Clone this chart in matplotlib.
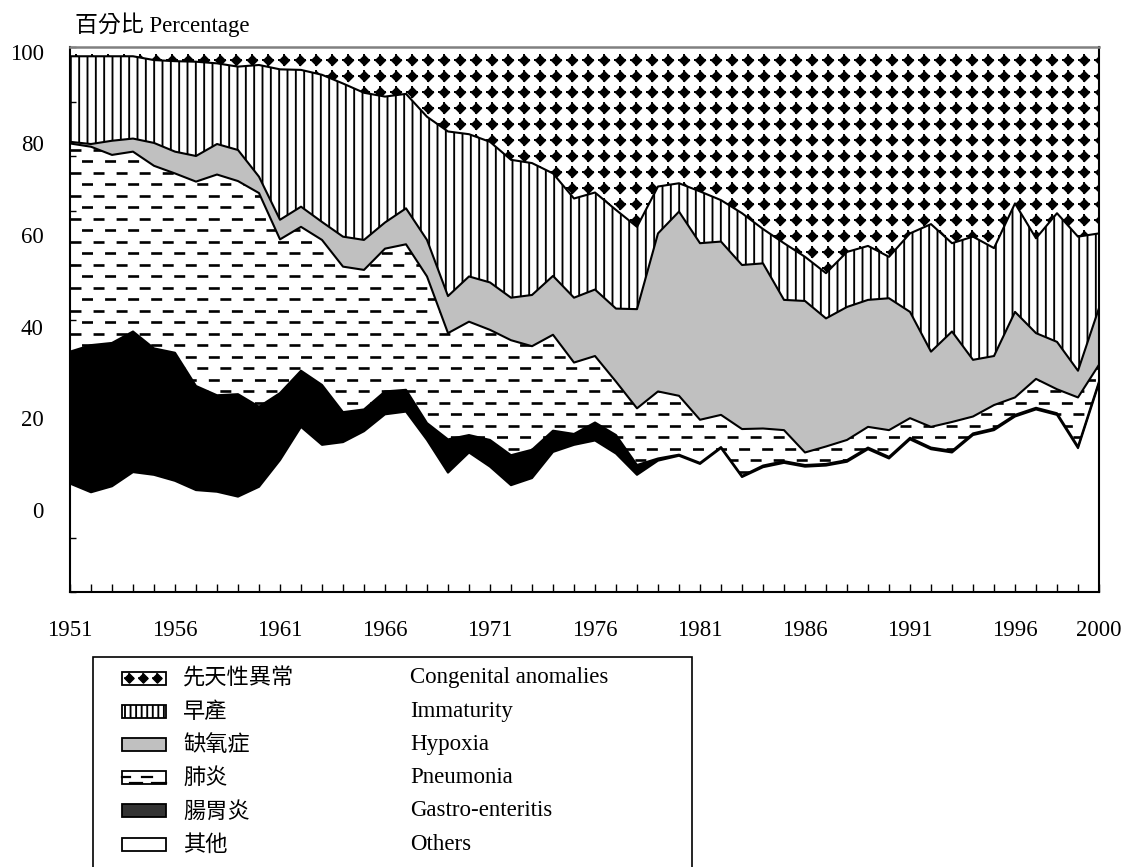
import numpy as np
import matplotlib
matplotlib.use('Agg')
import matplotlib.pyplot as plt
from matplotlib.collections import LineCollection
from matplotlib.patches import Rectangle

plt.rcParams['font.family'] = ['Liberation Serif', 'Noto Sans CJK TC']
plt.rcParams['lines.scale_dashes'] = False
plt.rcParams['hatch.linewidth'] = 1.35

years = np.arange(1951, 2001)

# percentage share of each cause, 1951-2000
others = [19.9, 18.3, 19.4, 22.0, 21.5, 20.4, 18.7, 18.4, 17.5, 19.3,
          24.2, 30.3, 27.0, 27.5, 29.5, 32.6, 33.1, 27.9, 21.9, 25.6,
          23.0, 19.6, 20.9, 25.7, 27.0, 27.8, 25.4, 21.5, 24.1, 25.0,
          23.5, 26.4, 21.1, 22.9, 23.7, 23.0, 23.2, 23.9, 26.2, 24.5,
          28.0, 26.2, 25.6, 28.8, 29.7, 32.2, 33.5, 32.5, 26.4, 38.3]
gastro = [24.2, 27.0, 26.3, 25.8, 23.2, 23.5, 19.1, 17.7, 18.8, 14.7,
          12.3, 10.3, 11.0, 5.5, 4.0, 4.2, 4.0, 3.1, 6.1, 3.2,
          4.9, 5.5, 5.2, 3.9, 2.0, 3.3, 3.4, 1.8, 0.4, 0.2,
          0.2, 0.2, 0.2, 0.3, 0.3, 0.3, 0.3, 0.3, 0.3, 0.3,
          0.3, 0.3, 0.3, 0.3, 0.3, 0.3, 0.3, 0.3, 0.3, 0.3]
pneumonia = [38.2, 36.4, 34.5, 33.0, 33.5, 32.9, 37.5, 40.5, 39.1, 39.2,
             28.2, 26.4, 26.6, 26.7, 25.6, 26.2, 26.7, 26.9, 19.5, 20.8,
             20.2, 21.1, 19.0, 17.6, 13.1, 12.2, 9.8, 10.4, 12.3, 10.8,
             7.9, 5.9, 8.6, 6.8, 5.7, 2.3, 3.2, 3.7, 3.8, 4.9,
             3.6, 3.8, 5.3, 3.1, 4.3, 3.2, 5.3, 4.4, 9.0, 3.1]
hypoxia = [0.3, 0.5, 2.6, 2.4, 4.2, 4.0, 4.7, 5.6, 5.7, 3.0,
           3.6, 3.7, 3.3, 5.5, 5.5, 4.8, 6.6, 6.7, 6.8, 8.3,
           8.7, 7.8, 9.4, 10.8, 11.9, 12.2, 13.4, 18.2, 29.0, 33.8,
           32.4, 31.8, 30.1, 30.3, 23.9, 27.8, 23.5, 24.4, 23.3, 24.2,
           19.5, 13.8, 16.6, 10.4, 9.0, 15.7, 8.4, 8.7, 4.9, 10.4]
immaturity = [15.7, 16.1, 15.5, 15.1, 15.2, 16.6, 17.3, 14.8, 15.3, 20.5,
              27.6, 25.1, 27.0, 28.1, 27.0, 23.1, 21.0, 22.6, 30.2, 26.1,
              25.8, 25.3, 24.2, 18.8, 18.2, 17.8, 18.1, 15.1, 8.6, 5.2,
              9.5, 7.6, 9.5, 6.3, 10.4, 8.1, 8.3, 10.1, 9.9, 7.6,
              14.4, 23.4, 16.2, 22.6, 19.8, 19.9, 17.4, 23.6, 24.6, 13.7]
congenital = [1.7, 1.7, 1.7, 1.7, 2.4, 2.6, 2.7, 3.0, 3.6, 3.3,
              4.1, 4.2, 5.1, 6.7, 8.4, 9.1, 8.6, 12.8, 15.5, 16.0,
              17.4, 20.7, 21.3, 23.2, 27.8, 26.7, 29.9, 33.0, 25.6, 25.0,
              26.5, 28.1, 30.5, 33.4, 36.0, 38.5, 41.5, 37.6, 36.5, 38.5,
              34.2, 32.5, 36.0, 34.8, 36.9, 28.7, 35.1, 30.5, 34.8, 34.2]

names_cn = ['先天性異常', '早產', '缺氧症', '肺炎', '腸胃炎', '其他']
names_en = ['Congenital anomalies', 'Immaturity', 'Hypoxia', 'Pneumonia',
            'Gastro-enteritis', 'Others']
year_labels = [1951, 1956, 1961, 1966, 1971, 1976, 1981, 1986, 1991, 1996, 2000]
pct_labels = [0, 20, 40, 60, 80, 100]

W, H = 1127, 867
fig = plt.figure(figsize=(W / 100, H / 100), dpi=100)
ax = fig.add_axes([70 / W, 1 - 592 / H, 1029 / W, 545 / H])

layers = np.array([others, gastro, pneumonia, hypoxia, immaturity, congenital])
top = np.cumsum(layers, axis=0)
bottom = np.vstack([np.zeros(len(years)), top[:-1]])
top[-1] = 100

# fills, bottom to top
ax.fill_between(years, bottom[0], top[0], facecolor='white', lw=0)
ax.fill_between(years, bottom[1], top[1], facecolor='black', lw=0)
pn = ax.fill_between(years, bottom[2], top[2], facecolor='white', lw=0)
ax.fill_between(years, bottom[3], top[3], facecolor='#c0c0c0', lw=0)
ax.fill_between(years, bottom[4], top[4], facecolor='white', edgecolor='black',
                hatch='||', lw=0)
cg = ax.fill_between(years, bottom[5], top[5], facecolor='white', lw=0)

# pixel scale of the plot, used for the textures
px_x = 1029 / (2000 - 1951)
px_y = 545 / 100

# pneumonia texture: staggered short dashes
rows = np.arange(1.0, 100, 11.5 / px_y)
segs = [[(1951, r), (2000, r)] for r in rows]
styles = [(0 if i % 2 == 0 else 8.3, (7.9, 8.7)) for i in range(len(rows))]
lc = LineCollection(segs, colors='black', linewidths=1.9, linestyles=styles,
                    capstyle='butt', zorder=1.5)
ax.add_collection(lc)
lc.set_clip_path(pn.get_paths()[0], ax.transData)

# congenital texture: grid of diamond dots
gx = np.arange(1951 + 6 / px_x, 2000.5, 16 / px_x)
gy = np.arange(100 - 13 / px_y, 0, -16 / px_y)
GX, GY = np.meshgrid(gx, gy)
for mk, s, lw in [('D', 36, 0), ('+', 80, 1.4)]:
    d = ax.scatter(GX.ravel(), GY.ravel(), marker=mk, s=s, color='black',
                   linewidths=lw, zorder=1.5)
    d.set_clip_path(cg.get_paths()[0], ax.transData)

for c in top[:-1]:
    ax.plot(years, c, color='black', lw=1.5, zorder=2)

ax.set_xlim(1951, 2000)
ax.set_ylim(0, 100)
ax.set_xticks(years)
ax.set_xticklabels([str(y) if y in year_labels else '' for y in years])
ax.set_yticks(np.arange(0, 101, 10))
ax.tick_params(axis='x', direction='in', length=5.5, width=1, pad=20, labelsize=16.5)
ax.tick_params(axis='y', direction='in', length=4, width=1, labelleft=False)
for side in ['left', 'bottom', 'right']:
    ax.spines[side].set_color('black')
    ax.spines[side].set_linewidth(1.5)
ax.spines['top'].set_color('#808080')
ax.spines['top'].set_linewidth(1.8)

# percentage labels sit on their own scale, as in the source chart
sec = ax.secondary_yaxis('left', functions=(lambda p: (p - 15.1) / 0.84,
                                            lambda v: v * 0.84 + 15.1))
sec.set_yticks(pct_labels)
sec.tick_params(length=0, pad=19, labelsize=16.5)
sec.spines['left'].set_visible(False)

# overlay in pixel coordinates for title and legend
lax = fig.add_axes([0, 0, 1, 1], facecolor='none')
lax.set_xlim(0, W)
lax.set_ylim(H, 0)
lax.axis('off')
lax.text(75, 25, '百分比 Percentage', fontsize=16.5, va='center', ha='left')

lax.add_patch(Rectangle((93, 657), 692 - 93, 230, facecolor='white',
                        edgecolor='black', lw=1.2))
for i in range(6):
    yc = 678 + 33.2 * i
    face = ['white', 'white', '#c0c0c0', 'white', '#333333', 'white'][i]
    hatch = '|||' if i == 1 else None
    lax.add_patch(Rectangle((122, yc - 6.5), 44, 13, facecolor=face,
                            edgecolor='black', hatch=hatch, lw=1.3))
    if i == 0:
        lax.scatter([129, 143, 157], [yc, yc, yc], marker='D', s=22, color='black')
        lax.scatter([129, 143, 157], [yc, yc, yc], marker='+', s=50, color='black', lw=1.1)
    if i == 3:
        lax.plot([122, 130], [yc - 1, yc - 1], color='black', lw=1.6)
        lax.plot([142, 152], [yc - 1, yc - 1], color='black', lw=1.6)
        lax.plot([130, 142], [yc + 5, yc + 5], color='black', lw=1.6)
        lax.plot([152, 166], [yc + 5, yc + 5], color='black', lw=1.6)
    lax.text(183, yc, names_cn[i], fontsize=16, family='Noto Sans CJK TC',
             va='center', ha='left')
    lax.text(410, yc, names_en[i], fontsize=16.5, va='center', ha='left')

fig.savefig('out.png', dpi=100)
